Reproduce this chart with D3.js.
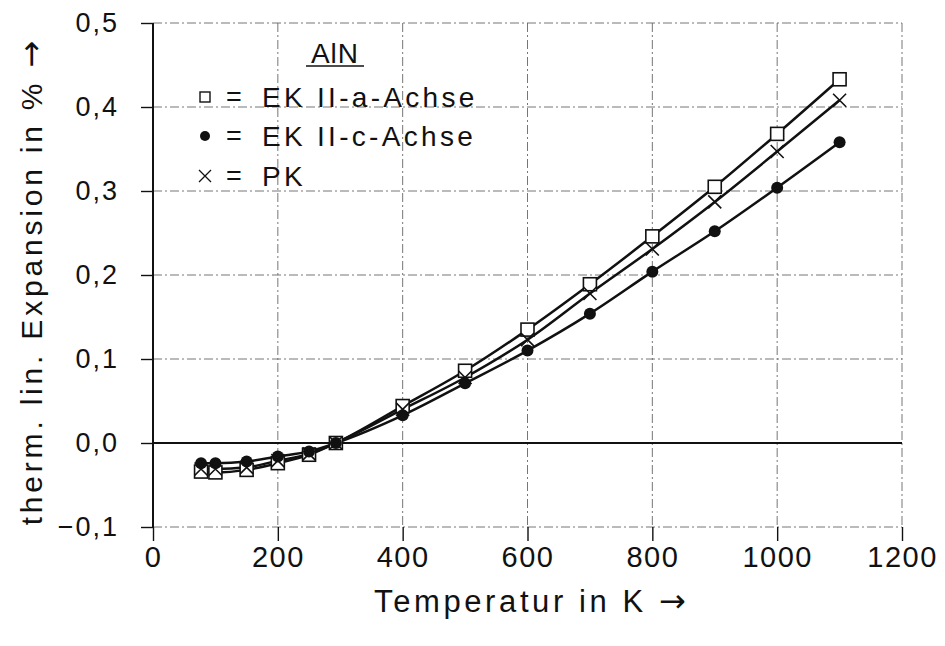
<!DOCTYPE html>
<html><head><meta charset="utf-8">
<script src="https://cdn.jsdelivr.net/npm/d3@7"></script>
<style>
html,body{margin:0;padding:0;background:#fff;}
svg text{font-family:"Liberation Sans",Arial,sans-serif;fill:#111;}
</style></head>
<body><svg id="c" width="945" height="646"></svg>
<script>
const temps = [77, 100, 150, 200, 250, 293, 400, 500, 600, 700, 800, 900, 1000, 1100];
const ekA = [-0.034, -0.035, -0.032, -0.024, -0.014, 0.000, 0.044, 0.086, 0.135, 0.189, 0.246, 0.305, 0.368, 0.433];
const ekC = [-0.024, -0.024, -0.022, -0.016, -0.010, 0.000, 0.033, 0.071, 0.110, 0.154, 0.204, 0.252, 0.304, 0.358];
const pk  = [-0.031, -0.031, -0.029, -0.021, -0.013, 0.000, 0.040, 0.078, 0.123, 0.178, 0.231, 0.287, 0.347, 0.408];
const xTicks = [0, 200, 400, 600, 800, 1000, 1200];
const yTicks = [-0.1, 0.0, 0.1, 0.2, 0.3, 0.4, 0.5];
const legendTitle = "AlN";
const legendLabels = ["EK II-a-Achse", "EK II-c-Achse", "PK"];
const xTitle = "Temperatur in K ";
const yTitle = "therm. lin. Expansion in % ";
const arrow = "\u2192";

const svg = d3.select("#c");
const x = d3.scaleLinear().domain([0, 1200]).range([153, 902]);
const y = d3.scaleLinear().domain([-0.1, 0.5]).range([527, 23]);
const fmt = v => d3.format(".1f")(v).replace(".", ",").replace("-", "\u2212");

// grid
const gridDash = "9,3,2,3";
const grid = svg.append("g").attr("stroke", "#666").attr("stroke-width", 0.9).attr("stroke-dasharray", gridDash).attr("fill", "none");
xTicks.filter(t => t > 0).forEach(t => grid.append("line").attr("x1", x(t)).attr("x2", x(t)).attr("y1", y(0.5)).attr("y2", y(-0.1)));
yTicks.filter(t => t !== 0).forEach(t => grid.append("line").attr("x1", x(0)).attr("x2", x(1200)).attr("y1", y(t)).attr("y2", y(t)));

// axes
const xAxis = d3.axisBottom(x).tickValues(xTicks).tickSize(14).tickPadding(5).tickFormat(d3.format("d"));
const gx = svg.append("g").attr("transform", `translate(0,${y(-0.1)})`).call(xAxis);
gx.select(".domain").remove();
gx.selectAll(".tick line").attr("stroke", "#111").attr("stroke-width", 1.4);
gx.selectAll(".tick text").attr("font-size", 29).attr("letter-spacing", 1.5).attr("dy", "0.72em");

const yAxis = d3.axisLeft(y).tickValues(yTicks).tickSize(12).tickPadding(22).tickFormat(fmt);
const gy = svg.append("g").attr("transform", `translate(${x(0)},0)`).call(yAxis);
gy.select(".domain").attr("stroke", "#111").attr("stroke-width", 2).attr("d", `M0,${y(0.5)}V${y(-0.1)}`);
gy.selectAll(".tick line").attr("stroke", "#111").attr("stroke-width", 1.4);
gy.selectAll(".tick text").attr("font-size", 27).attr("letter-spacing", 2);

// zero line
svg.append("line").attr("x1", x(0)).attr("x2", x(1200)).attr("y1", y(0)).attr("y2", y(0)).attr("stroke", "#111").attr("stroke-width", 2);

// curves
const series = [ekA, ekC, pk];
const line = d3.line().x((d, i) => x(temps[i])).y(d => y(d)).curve(d3.curveMonotoneX);
series.forEach(s => svg.append("path").datum(s).attr("d", line).attr("fill", "none").attr("stroke", "#111").attr("stroke-width", 2.5));

// markers
const mk = svg.append("g");
ekA.forEach((v, i) => mk.append("rect").attr("x", x(temps[i]) - 6.5).attr("y", y(v) - 6.5).attr("width", 13).attr("height", 13).attr("fill", "#fff").attr("stroke", "#111").attr("stroke-width", 1.6));
ekC.forEach((v, i) => mk.append("circle").attr("cx", x(temps[i])).attr("cy", y(v)).attr("r", 6).attr("fill", "#111"));
pk.forEach((v, i) => {
  const cx = x(temps[i]), cy = y(v), s = 6.5;
  mk.append("path").attr("d", `M${cx - s},${cy - s}L${cx + s},${cy + s}M${cx - s},${cy + s}L${cx + s},${cy - s}`).attr("stroke", "#111").attr("stroke-width", 1.6);
});

// legend
const lg = svg.append("g");
lg.append("text").attr("x", 335).attr("y", 63).attr("text-anchor", "middle").attr("font-size", 28).attr("letter-spacing", 1).text(legendTitle);
lg.append("line").attr("x1", 306).attr("x2", 364).attr("y1", 66).attr("y2", 66).attr("stroke", "#111").attr("stroke-width", 1.6);
const rowY = [97, 136, 176];
lg.append("rect").attr("x", 200).attr("y", rowY[0] - 5).attr("width", 10).attr("height", 10).attr("fill", "#fff").attr("stroke", "#111").attr("stroke-width", 1.4);
lg.append("circle").attr("cx", 205).attr("cy", rowY[1]).attr("r", 5).attr("fill", "#111");
lg.append("path").attr("d", `M199,${rowY[2] - 6}L211,${rowY[2] + 6}M199,${rowY[2] + 6}L211,${rowY[2] - 6}`).attr("stroke", "#111").attr("stroke-width", 1.3);
legendLabels.forEach((t, i) => {
  lg.append("text").attr("x", 226).attr("y", rowY[i]).attr("dy", "0.35em").attr("font-size", 27).text("=");
  lg.append("text").attr("x", 262).attr("y", rowY[i]).attr("dy", "0.35em").attr("font-size", 28).attr("letter-spacing", 3.3).text(t);
});

// titles
const xt = svg.append("text").attr("x", 530).attr("y", 612).attr("text-anchor", "middle").attr("font-size", 31).attr("letter-spacing", 3.6);
xt.append("tspan").text(xTitle);
xt.append("tspan").attr("font-family", "DejaVu Sans").attr("font-size", 32).attr("letter-spacing", 0).text(arrow);
const yt = svg.append("text").attr("transform", "translate(42,283) rotate(-90)").attr("text-anchor", "middle").attr("font-size", 30).attr("letter-spacing", 3.8);
yt.append("tspan").text(yTitle);
yt.append("tspan").attr("font-family", "DejaVu Sans").attr("font-size", 32).attr("letter-spacing", 0).text(arrow);
</script></body></html>
